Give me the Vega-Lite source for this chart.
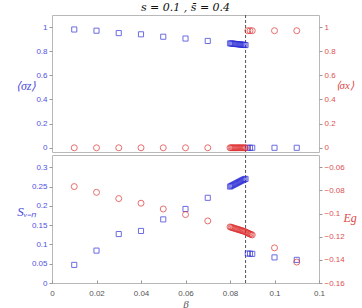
{
  "$schema": "https://vega.github.io/schema/vega-lite/v6.json",
  "padding": {"left": 14, "top": 1, "right": 0, "bottom": 0},
  "background": "white",
  "spacing": 0,
  "config": {
    "view": {"stroke": "#b8b8b8", "strokeWidth": 1},
    "axis": {"grid": false, "domain": false, "labelFont": "Liberation Sans", "labelFontSize": 8, "labelOverlap": false, "tickSize": 3, "tickColor": "#999", "titleFont": "Liberation Serif", "titleFontWeight": "normal", "titleFontSize": 12}
  },
  "datasets": {
    "top": [
      {"beta": 0.01, "sz": 0.98, "sx": 0},
      {"beta": 0.02, "sz": 0.97, "sx": 0},
      {"beta": 0.03, "sz": 0.95, "sx": 0},
      {"beta": 0.04, "sz": 0.94, "sx": 0},
      {"beta": 0.05, "sz": 0.92, "sx": 0},
      {"beta": 0.06, "sz": 0.905, "sx": 0},
      {"beta": 0.07, "sz": 0.885, "sx": 0},
      {"beta": 0.080, "sz": 0.865, "sx": 0},
      {"beta": 0.0805, "sz": 0.864, "sx": 0},
      {"beta": 0.081, "sz": 0.863, "sx": 0},
      {"beta": 0.0815, "sz": 0.862, "sx": 0},
      {"beta": 0.082, "sz": 0.861, "sx": 0},
      {"beta": 0.0825, "sz": 0.860, "sx": 0},
      {"beta": 0.083, "sz": 0.859, "sx": 0},
      {"beta": 0.0835, "sz": 0.858, "sx": 0},
      {"beta": 0.084, "sz": 0.857, "sx": 0},
      {"beta": 0.0845, "sz": 0.856, "sx": 0},
      {"beta": 0.085, "sz": 0.855, "sx": 0},
      {"beta": 0.0855, "sz": 0.854, "sx": 0},
      {"beta": 0.086, "sz": 0.853, "sx": 0},
      {"beta": 0.0865, "sz": 0.852, "sx": 0},
      {"beta": 0.087, "sz": 0.851, "sx": 0},
      {"beta": 0.088, "sz": 0, "sx": 0.97},
      {"beta": 0.089, "sz": 0, "sx": 0.97},
      {"beta": 0.090, "sz": 0, "sx": 0.97},
      {"beta": 0.10, "sz": 0, "sx": 0.97},
      {"beta": 0.11, "sz": 0, "sx": 0.97}
    ],
    "bottom": [
      {"beta": 0.01, "svn": 0.047, "eg": -0.0766},
      {"beta": 0.02, "svn": 0.084, "eg": -0.0816},
      {"beta": 0.03, "svn": 0.127, "eg": -0.087},
      {"beta": 0.04, "svn": 0.135, "eg": -0.091},
      {"beta": 0.05, "svn": 0.165, "eg": -0.096},
      {"beta": 0.06, "svn": 0.192, "eg": -0.1008},
      {"beta": 0.07, "svn": 0.221, "eg": -0.1063},
      {"beta": 0.080, "svn": 0.250, "eg": -0.1115},
      {"beta": 0.0805, "svn": 0.2515, "eg": -0.1118},
      {"beta": 0.081, "svn": 0.253, "eg": -0.1121},
      {"beta": 0.0815, "svn": 0.2545, "eg": -0.1124},
      {"beta": 0.082, "svn": 0.256, "eg": -0.1127},
      {"beta": 0.0825, "svn": 0.2575, "eg": -0.1130},
      {"beta": 0.083, "svn": 0.259, "eg": -0.1133},
      {"beta": 0.0835, "svn": 0.2605, "eg": -0.1136},
      {"beta": 0.084, "svn": 0.262, "eg": -0.1139},
      {"beta": 0.0845, "svn": 0.2635, "eg": -0.1142},
      {"beta": 0.085, "svn": 0.265, "eg": -0.1145},
      {"beta": 0.0855, "svn": 0.2665, "eg": -0.1148},
      {"beta": 0.086, "svn": 0.268, "eg": -0.1151},
      {"beta": 0.0865, "svn": 0.269, "eg": -0.1154},
      {"beta": 0.087, "svn": 0.270, "eg": -0.1158},
      {"beta": 0.0875, "svn": null, "eg": -0.1163},
      {"beta": 0.088, "svn": 0.0765, "eg": -0.1168},
      {"beta": 0.0885, "svn": null, "eg": -0.1172},
      {"beta": 0.089, "svn": 0.0762, "eg": -0.1177},
      {"beta": 0.0895, "svn": null, "eg": -0.1180},
      {"beta": 0.090, "svn": 0.0755, "eg": -0.1184},
      {"beta": 0.10, "svn": 0.0664, "eg": -0.1296},
      {"beta": 0.11, "svn": 0.060, "eg": -0.1419}
    ],
    "vline": [{"beta": 0.087}]
  },
  "vconcat": [
    {
      "width": 267,
      "height": 137,
      "title": {"text": "s = 0.1 , s̄ = 0.4", "font": "DejaVu Serif", "fontStyle": "italic", "fontWeight": "normal", "fontSize": 11, "color": "#111", "offset": 2, "anchor": "middle"},
      "layer": [
        {
          "data": {"name": "vline"},
          "mark": {"type": "rule", "color": "#555", "strokeDash": [3, 2], "strokeWidth": 1},
          "encoding": {"x": {"field": "beta", "type": "quantitative", "scale": {"domain": [0, 0.12]}, "axis": null}}
        },
        {
          "data": {"name": "top"},
          "mark": {"type": "point", "shape": "square", "size": 26, "strokeWidth": 1, "color": "#2f2fd8", "filled": false},
          "encoding": {
            "x": {"field": "beta", "type": "quantitative", "scale": {"domain": [0, 0.12]}, "axis": null},
            "y": {"field": "sz", "type": "quantitative", "scale": {"domain": [-0.035, 1.1], "nice": false, "zero": false}, "axis": {"values": [0, 0.2, 0.4, 0.6, 0.8, 1], "format": "~g", "labelColor": "#5050e0", "title": "⟨σz⟩", "titleColor": "#4a4ae0", "titleAngle": 0, "titleFontStyle": "italic", "titleAlign": "right", "titleBaseline": "middle", "titleX": -16, "titleY": 70}}
          }
        },
        {
          "data": {"name": "top"},
          "mark": {"type": "point", "shape": "circle", "size": 36, "strokeWidth": 1, "color": "#e03030", "filled": false},
          "encoding": {
            "x": {"field": "beta", "type": "quantitative", "scale": {"domain": [0, 0.12]}, "axis": null},
            "y": {"field": "sx", "type": "quantitative", "scale": {"domain": [-0.035, 1.1], "nice": false, "zero": false}, "axis": {"orient": "right", "values": [0, 0.2, 0.4, 0.6, 0.8, 1], "format": "~g", "labelColor": "#e05050", "title": "⟨σx⟩", "titleColor": "#e04a4a", "titleAngle": 0, "titleFontStyle": "italic", "titleAlign": "left", "titleBaseline": "middle", "titleX": 16, "titleY": 70, "titleFontSize": 11}}
          }
        }
      ],
      "resolve": {"scale": {"y": "independent"}}
    },
    {
      "width": 267,
      "height": 128,
      "layer": [
        {
          "data": {"name": "vline"},
          "mark": {"type": "rule", "color": "#555", "strokeDash": [3, 2], "strokeWidth": 1},
          "encoding": {"x": {"field": "beta", "type": "quantitative", "scale": {"domain": [0, 0.12]}, "axis": {"values": [0, 0.02, 0.04, 0.06, 0.08, 0.1, 0.12], "format": "~g", "labelColor": "#555", "labelFlush": false, "tickSize": -3, "labelPadding": 9, "title": "β", "titleColor": "#555", "titleFontStyle": "italic", "titlePadding": 1, "titleFontSize": 11}}}
        },
        {
          "data": {"name": "bottom"},
          "transform": [{"filter": "datum.svn != null"}],
          "mark": {"type": "point", "shape": "square", "size": 26, "strokeWidth": 1, "color": "#2f2fd8", "filled": false},
          "encoding": {
            "x": {"field": "beta", "type": "quantitative", "scale": {"domain": [0, 0.12]}},
            "y": {"field": "svn", "type": "quantitative", "scale": {"domain": [0, 0.332], "nice": false, "zero": false}, "axis": {"values": [0, 0.05, 0.1, 0.15, 0.2, 0.25, 0.3], "format": "~g", "labelColor": "#5050e0", "title": "Sᵥ₋ₙ", "titleColor": "#4a4ae0", "titleAngle": 0, "titleFontStyle": "italic", "titleAlign": "right", "titleBaseline": "middle", "titleX": -16, "titleY": 56, "titleFontSize": 13}}
          }
        },
        {
          "data": {"name": "bottom"},
          "mark": {"type": "point", "shape": "circle", "size": 36, "strokeWidth": 1, "color": "#e03030", "filled": false},
          "encoding": {
            "x": {"field": "beta", "type": "quantitative", "scale": {"domain": [0, 0.12]}},
            "y": {"field": "eg", "type": "quantitative", "scale": {"domain": [-0.16, -0.0493], "nice": false, "zero": false}, "axis": {"orient": "right", "values": [-0.16, -0.14, -0.12, -0.1, -0.08, -0.06], "format": "~g", "labelColor": "#e05050", "title": "Eg", "titleColor": "#e04a4a", "titleAngle": 0, "titleFontStyle": "italic", "titleAlign": "left", "titleBaseline": "middle", "titleX": 24, "titleY": 62, "titleFontSize": 12}}
          }
        }
      ],
      "resolve": {"scale": {"y": "independent"}}
    }
  ]
}
